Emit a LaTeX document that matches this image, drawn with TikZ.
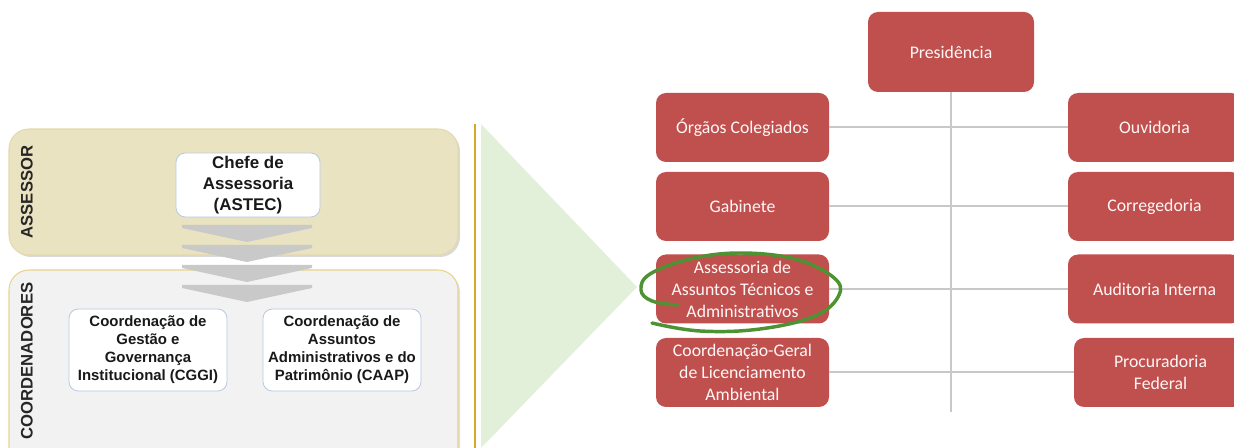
\documentclass[tikz,border=0pt]{standalone}
\usepackage{fontspec}
\setmainfont{Liberation Sans}
\newfontfamily\calfont{Carlito}
\usetikzlibrary{shadows}
\definecolor{redbox}{HTML}{C0504D}
\definecolor{beige}{HTML}{EAE3C2}
\definecolor{beigeborder}{HTML}{E3D9AE}
\definecolor{coordborder}{HTML}{E6D48F}
\definecolor{panelgray}{HTML}{F2F2F2}
\definecolor{chev}{HTML}{C9C9C9}
\definecolor{gold}{HTML}{D6A82A}
\definecolor{tri}{HTML}{E2F0D9}
\definecolor{conn}{HTML}{C8C8C8}
\definecolor{ring}{HTML}{4F9233}
\definecolor{boxborder}{HTML}{B8C8E0}
\begin{document}
\begin{tikzpicture}[x=0.75pt,y=-0.75pt,
 orgbox/.style={rectangle, rounded corners=7.5pt, fill=redbox, text=white!97!red,
   font=\calfont\fontsize{13.3}{16.5}\selectfont, align=center,
   minimum width=129.75pt, minimum height=51.75pt, inner sep=2pt},
 wbox/.style={rectangle, rounded corners=7pt, fill=white, draw=boxborder,
   line width=0.6pt, text=black!90, align=center, inner sep=1pt},
 panel/.style={rounded corners=15pt, line width=0.8pt},
 chevron/.style={fill=chev},
 conn/.style={draw=conn, line width=1.5pt},
 sidelabel/.style={rotate=90, font=\bfseries\fontsize{12.5}{15}\selectfont, text=black!85},
 cbox/.style={wbox, minimum width=118.5pt, minimum height=61.5pt,
   font=\bfseries\fontsize{11.2}{13.5}\selectfont}]
\useasboundingbox (0,0) rectangle (1234,448);
\clip (0,0) rectangle (1234,448);

% left panels
\path[panel, fill=beige, draw=beigeborder,
  drop shadow={opacity=0.3, shadow xshift=1.5pt, shadow yshift=-1.5pt}]
  (9,129) rectangle (458,255);
\path[panel, fill=panelgray, draw=coordborder,
  drop shadow={opacity=0.25, shadow xshift=1.5pt, shadow yshift=-1.5pt}]
  (9,270) rectangle (458,470);

\node[sidelabel] (lblA) at (27,192) {ASSESSOR};
\node[sidelabel] (lblC) at (27,361) {COORDENADORES};

\node[wbox, minimum width=108pt, minimum height=48pt,
  font=\bfseries\fontsize{12.7}{15.75}\selectfont] (chefe) at (248,185)
  {Chefe de\\Assessoria\\(ASTEC)};

\foreach \t in {225,245,265,285}{
  \fill[chevron] (182,\t) -- (312,\t) -- (312,\t+3) -- (247,\t+17) -- (182,\t+3) -- cycle;
}

\node[cbox] (cggi) at (148,350) {Coordena\c{c}\~ao de\\Gest\~ao e\\Governan\c{c}a\\Institucional (CGGI)};
\node[cbox] (caap) at (342,350) {Coordena\c{c}\~ao de\\Assuntos\\Administrativos e do\\Patrim\^onio (CAAP)};

% separator and triangle
\coordinate (gtop) at (475,124);
\coordinate (gbot) at (475,448);
\draw[gold, line width=1.5pt] (gtop) -- (gbot);
\fill[tri] (481,124) -- (637,287) -- (481,448) -- cycle;

% org chart
\node[orgbox, minimum width=124.5pt, minimum height=60pt] (pres) at (951,52) {Presidência};
\node[orgbox] (org) at (742.5,127.5) {Órgãos Colegiados};
\node[orgbox] (gab) at (742.5,206.5) {Gabinete};
\node[orgbox] (ass) at (742.5,289) {Assessoria de\\Assuntos Técnicos e\\Administrativos};
\node[orgbox] (cgl) at (742.5,372.5) {Coordenação-Geral\\de Licenciamento\\Ambiental};
\node[orgbox] (ouv) at (1154.5,127.5) {Ouvidoria};
\node[orgbox] (cor) at (1154.5,206.5) {Corregedoria};
\node[orgbox] (aud) at (1154.5,289) {Auditoria Interna};
\node[orgbox] (proc) at (1160.5,372.5) {Procuradoria\\Federal};

\coordinate (vend) at (951,412);
\draw[conn] (pres.south) -- (vend);
\draw[conn] (org.east) -- (ouv.west);
\draw[conn] (gab.east) -- (cor.west);
\draw[conn] (ass.east) -- (aud.west);
\draw[conn] (cgl.east) -- (proc.west);

% hand-drawn ring
\draw[ring, line width=2.6pt, line cap=round] plot[smooth, tension=0.65] coordinates {
 (678,305) (652,301) (641,290) (650,274) (690,259) (740,253) (795,259)
 (833,277) (839,295) (815,316) (760,329) (700,331) (652,323)};
\end{tikzpicture}
\end{document}
